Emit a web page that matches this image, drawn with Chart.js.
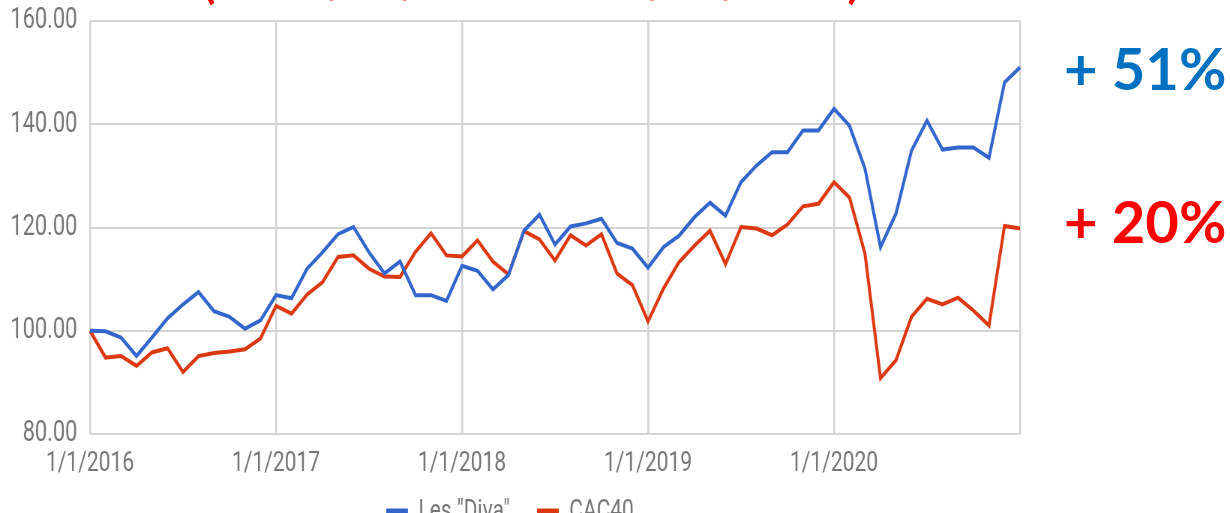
<!DOCTYPE html>
<html>
<head>
<meta charset="utf-8">
<script src="https://cdn.jsdelivr.net/npm/chart.js@4.4.1/dist/chart.umd.min.js"></script>
<style>
  html, body { margin: 0; padding: 0; background: #fff; }
  body { width: 1230px; height: 513px; overflow: hidden; position: relative; }
  /* the chart is laid out wide and squeezed horizontally to get its narrow lettering */
  #wrap { position: absolute; left: 0; top: 0; width: 1640px; height: 536px;
          transform: scaleX(0.75); transform-origin: 0 0; }
  .note { position: absolute; font-family: Lato, "Open Sans", sans-serif; font-weight: 700;
          white-space: nowrap; line-height: 1; }
  #period { left: 203px; top: -41px; font-size: 45px; color: #ff0000; }
  #gainDiva { left: 1064px; top: 39px; font-size: 58px; color: #0070c0; }
  #gainCac { left: 1064px; top: 192px; font-size: 58px; color: #ff0000; }
</style>
</head>
<body>
<div id="wrap"><canvas id="chart" width="1640" height="536"></canvas></div>
<div id="period" class="note">(du 01/01/2016 au 31/12/2020)</div>
<div id="gainDiva" class="note"></div>
<div id="gainCac" class="note"></div>
<script>
// Monthly index values, base 100 on 1/1/2016
const startYear = 2016;
const yearLabels = ['1/1/2016', '1/1/2017', '1/1/2018', '1/1/2019', '1/1/2020'];
const divaValues = [
  100.0, 99.9, 98.7, 95.1, 98.7, 102.4, 105.1, 107.5, 103.8, 102.7, 100.4, 102.0,
  106.9, 106.3, 112.0, 115.2, 118.7, 120.1, 115.2, 111.1, 113.4, 106.9, 106.9, 105.8,
  112.6, 111.6, 108.0, 110.8, 119.4, 122.5, 116.7, 120.2, 120.8, 121.7, 117.0, 115.9,
  112.2, 116.2, 118.4, 122.0, 124.8, 122.3, 128.8, 132.0, 134.6, 134.6, 138.8, 138.8,
  143.0, 139.7, 131.4, 116.2, 122.7, 134.9, 140.7, 135.1, 135.5, 135.5, 133.5, 148.1,
  151.0
];
const cacValues = [
  100.0, 94.8, 95.1, 93.2, 95.8, 96.6, 92.0, 95.1, 95.7, 96.0, 96.4, 98.5,
  104.8, 103.3, 107.0, 109.4, 114.3, 114.6, 112.0, 110.5, 110.4, 115.3, 118.9, 114.6,
  114.4, 117.5, 113.4, 110.9, 119.3, 117.7, 113.6, 118.5, 116.5, 118.7, 111.1, 108.8,
  101.8, 108.2, 113.3, 116.5, 119.4, 112.9, 120.1, 119.8, 118.5, 120.6, 124.1, 124.6,
  128.8, 125.8, 114.9, 90.8, 94.3, 102.7, 106.2, 105.1, 106.4, 103.9, 101.0, 120.3,
  119.8
];
const yMin = 80, yMax = 160, yStep = 20;

// one category per month, 1/1/2016 .. 1/1/2021
const months = divaValues.map((_, i) => `${(i % 12) + 1}/1/${startYear + Math.floor(i / 12)}`);

const gridColor = '#d4d4d4';
const labelColor = '#767676';
Chart.defaults.font.family = 'Roboto, "Noto Sans", sans-serif';
Chart.defaults.font.size = 28;
Chart.defaults.color = labelColor;

new Chart(document.getElementById('chart'), {
  type: 'line',
  data: {
    labels: months,
    datasets: [
      { label: 'Les "Diva"', data: divaValues, borderColor: '#3366cc', backgroundColor: '#3366cc',
        borderWidth: 4, pointRadius: 0, tension: 0 },
      { label: 'CAC40', data: cacValues, borderColor: '#dc3912', backgroundColor: '#dc3912',
        borderWidth: 4, pointRadius: 0, tension: 0 }
    ]
  },
  options: {
    responsive: false,
    animation: false,
    devicePixelRatio: 1,
    layout: { autoPadding: false, padding: { left: 0, right: 280, top: 21, bottom: 0 } },
    plugins: {
      tooltip: { enabled: false },
      legend: {
        position: 'bottom',
        labels: {
          boxWidth: 29, boxHeight: 7, padding: 36, color: labelColor, font: { size: 28 },
          generateLabels: chart => Chart.defaults.plugins.legend.labels.generateLabels(chart)
            .map(item => Object.assign(item, { lineWidth: 0 }))
        }
      }
    },
    scales: {
      x: {
        type: 'category',
        offset: false,
        border: { display: false },
        grid: {
          drawTicks: false,
          lineWidth: 2.6,
          color: ctx => (ctx.index % 12 === 0 ? gridColor : 'rgba(0,0,0,0)')
        },
        ticks: {
          autoSkip: false, maxRotation: 0, padding: 13,
          callback: (v, i) => (i % 12 === 0 ? (yearLabels[i / 12] ?? '') : '')
        },
        afterFit: s => {
          s.height = 28;
          // let the date labels run below the axis box instead of being clipped
          s._computeLabelArea = () => null;
        }
      },
      y: {
        min: yMin, max: yMax,
        border: { display: false },
        grid: { drawTicks: false, lineWidth: 2, color: gridColor },
        ticks: { stepSize: yStep, padding: 17, font: { size: 29 }, callback: v => Number(v).toFixed(2) },
        afterFit: s => { s.width = 120; s.paddingTop = 0; s.paddingBottom = 0; }
      }
    }
  }
});

// overall change since the base date
const gain = arr => Math.round(arr[arr.length - 1] - arr[0]);
document.getElementById('gainDiva').textContent = '+ ' + gain(divaValues) + '%';
document.getElementById('gainCac').textContent = '+ ' + gain(cacValues) + '%';
</script>
</body>
</html>
